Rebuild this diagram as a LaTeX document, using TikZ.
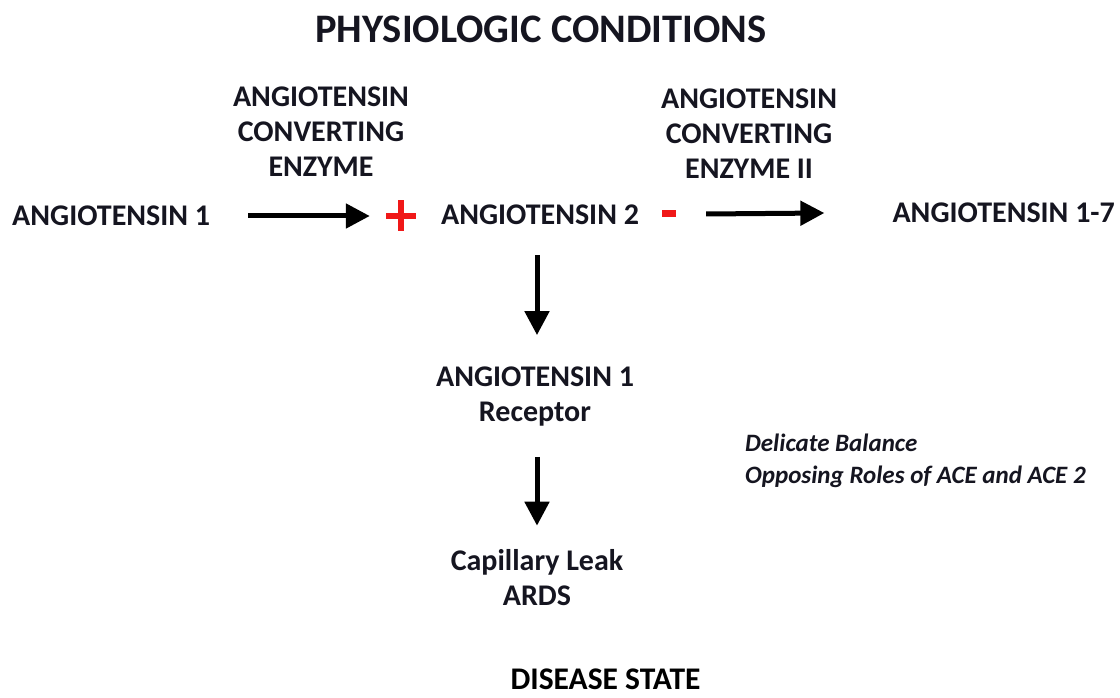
\documentclass[tikz,border=0pt]{standalone}
\usepackage{fontspec}
\setmainfont{Carlito}
\usetikzlibrary{arrows.meta}
\definecolor{txt}{HTML}{151520}
\definecolor{sign}{HTML}{F01818}
\tikzset{
  lbl/.style={inner sep=0pt, text=txt, font=\bfseries\fontsize{30}{35}\selectfont, align=center},
  note/.style={inner sep=0pt, text=txt, font=\bfseries\itshape\fontsize{25}{32}\selectfont, align=left},
  arr/.style={line width=5pt, draw=black, -{Triangle[length=24pt,width=24pt]}},
}
\begin{document}
\begin{tikzpicture}[x=1pt,y=-1pt]
\useasboundingbox[fill=white] (0,0) rectangle (1120,698);
\node[lbl, font=\bfseries\fontsize{40.5}{44}\selectfont] (title) at (541,29) {PHYSIOLOGIC CONDITIONS};
\node[lbl] (ace) at (321,132) {ANGIOTENSIN\\CONVERTING\\ENZYME};
\node[lbl] (ace2) at (749,134) {ANGIOTENSIN\\CONVERTING\\ENZYME II};
\node[lbl, anchor=west] (a1) at (12,216) {ANGIOTENSIN 1};
\node[inner sep=0pt] (plus) at (401,216) {\tikz{\fill[sign] (0,12.5pt) rectangle (30pt,18.5pt); \fill[sign] (12pt,0) rectangle (18pt,31pt);}};
\node[lbl] (a2) at (540,215) {ANGIOTENSIN 2};
\node[inner sep=0pt] (minus) at (669,214) {\tikz\fill[sign] (0,0) rectangle (14pt,7pt);};
\node[lbl, anchor=east] (a17) at (1115,213) {ANGIOTENSIN 1-7};
\node[lbl] (rec) at (535,397) {ANGIOTENSIN 1\\Receptor};
\node[lbl] (cap) at (537,578) {Capillary Leak\\ARDS};
\node[note, anchor=west] (bal) at (745,461) {Delicate Balance\\Opposing Roles of ACE and ACE 2};
\node[inner sep=0pt, text=black, anchor=base, text depth=0pt, font=\bfseries\fontsize{31.5}{36}\selectfont] (dis) at (605.5,689) {DISEASE STATE};
\draw[arr] ([xshift=38pt]a1.east) -- ([xshift=-16pt]plus.west);
\draw[arr] ([xshift=30pt]minus.east) -- ([xshift=-68pt]a17.west);
\draw[arr] ([xshift=-3pt,yshift=-30pt]a2.south) -- ([xshift=2pt,yshift=32pt]rec.north);
\draw[arr] ([xshift=2pt,yshift=-30pt]rec.south) -- ([yshift=24pt]cap.north);
\end{tikzpicture}
\end{document}
